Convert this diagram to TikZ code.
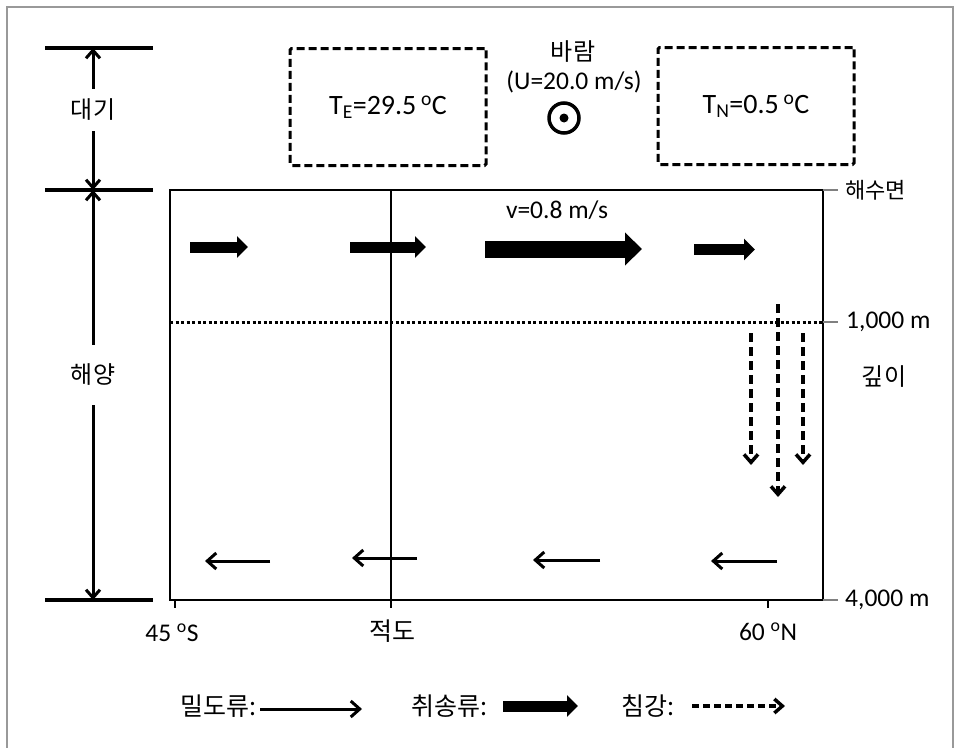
\documentclass[tikz,border=0pt]{standalone}
\usepackage{fontspec}
\setmainfont{Carlito}
\newfontfamily\kr{Noto Sans CJK KR}
\usetikzlibrary{arrows.meta}

\begin{document}
\begin{tikzpicture}[x=1pt,y=-1pt,
  every node/.style={inner sep=0pt},
  lat/.style={font=\fontsize{25.5}{28}\selectfont},
  big/.style={font=\fontsize{28}{30}\selectfont},
  kor/.style={font=\kr\fontsize{24}{28}\selectfont},
  tempbox/.style={draw, line width=3pt, dash pattern=on 8pt off 4pt,
    rounded corners=1.5pt, minimum width=196pt, minimum height=117pt},
  levelbar/.style={line width=3.5pt},
  dimarrow/.style={line width=3pt, -{Straight Barb[length=8pt,width=14pt,line width=3pt]}},
  densityflow/.style={line width=3pt, -{Straight Barb[length=9pt,width=16pt,line width=3pt]}},
  windflow/.style={line width=11pt, -{Triangle[length=11pt,width=21pt]}},
  sinking/.style={line width=3.5pt, dash pattern=on 9pt off 5pt,
    -{Straight Barb[length=8pt,width=14pt,line width=3.5pt]}},
  depthtick/.style={draw=gray, line width=1.5pt},
]
\useasboundingbox (0,0) rectangle (957,747);

% outer frame
\draw[gray!80, line width=2.5pt] (7,760) -- (7,7) -- (953,7) -- (953,760);

% vertical scale on the left
\coordinate (atop) at (93,48);
\coordinate (amid) at (93,190);
\coordinate (abot) at (93,600);
\draw[levelbar] (45,48) -- (153,48);
\draw[levelbar] (45,190) -- (153,190);
\draw[levelbar] (45,600) -- (153,600);
\node[kor, minimum height=42pt] (atm) at (93,110) {대기};
\node[kor, minimum height=60pt] (sea) at (93,375) {해양};
\draw[dimarrow] (atm) -- (atop);
\draw[dimarrow] (atm) -- (amid);
\draw[dimarrow] (sea) -- (amid);
\draw[dimarrow] (sea) -- (abot);

% temperature boxes and wind
\node[tempbox, big] (te) at (388,107) {T\textsubscript{E}=29.5\,\textsuperscript{o}C};
\node[tempbox, big] (tn) at (756,106) {T\textsubscript{N}=0.5\,\textsuperscript{o}C};
\node[kor] (windlbl) at (573,52) {바람};
\node[lat] (windval) at (574,82) {(U=20.0 m/s)};
\node[circle, draw, line width=3.5pt, minimum size=30pt] (wind) at (564,118) {};
\fill (wind.center) circle (4.5pt);

% ocean section
\node[draw, line width=2.5pt, minimum width=653pt, minimum height=410pt] (ocean) at (496.5,395) {};
\draw[line width=2.5pt] (391,190) -- (391,608);
\draw[line width=3pt, dash pattern=on 3pt off 2.5pt] (170,322) -- (823,322);
\draw[line width=2pt] (175,600) -- (175,608);
\draw[line width=2pt] (768,600) -- (768,608);

% depth labels on the right
\draw[depthtick] (823,190) -- (838,190);
\draw[depthtick] (823,322) -- (838,322);
\draw[depthtick] (823,600) -- (838,600);
\node[kor, anchor=west, font=\kr\fontsize{22}{26}\selectfont] (surf) at (845,190) {해수면};
\node[lat, anchor=west] (d1000) at (846,322) {1,000 m};
\node[kor] (depth) at (884,377) {깊이};
\node[lat, anchor=west] (d4000) at (845,600) {4,000 m};

% latitude labels
\node[lat] (s45) at (172,633) {45 \textsuperscript{o}S};
\node[kor, font=\kr\fontsize{25}{28}\selectfont] (eq) at (392,631) {적도};
\node[lat] (n60) at (768,632) {60 \textsuperscript{o}N};

% wind-driven surface flow
\draw[windflow] (190,247) -- (248,247);
\draw[windflow] (350,247) -- (426,247);
\draw[line width=17pt, -{Triangle[length=17pt,width=32pt]}] (485,249) -- (642,249);
\draw[windflow] (694,249.5) -- (755,249.5);
\node[lat] (speed) at (557,210) {v=0.8 m/s};

% sinking near 60 N
\draw[sinking] (751,333) -- (751,465);
\draw[sinking] (778,304) -- (778,497);
\draw[sinking] (803,333) -- (803,465);

% deep return flow
\draw[densityflow] (270,561) -- (205,561);
\draw[densityflow] (417,558) -- (352,558);
\draw[densityflow] (600,560) -- (533,560);
\draw[densityflow] (777,561) -- (711,561);

% legend
\node[kor, anchor=west, font=\kr\fontsize{25}{28}\selectfont] (lg1) at (180,706) {밀도류:};
\coordinate (lg1end) at (362,709);
\draw[densityflow] (lg1.east) ++(4,3) -- (lg1end);
\node[kor, anchor=west, font=\kr\fontsize{25}{28}\selectfont] (lg2) at (411,706) {취송류:};
\coordinate (lg2end) at (578,706);
\draw[windflow] (503,706) -- (lg2end);
\node[kor, anchor=west, font=\kr\fontsize{25}{28}\selectfont] (lg3) at (621,706) {침강:};
\coordinate (lg3end) at (785,706);
\draw[sinking, dash pattern=on 7pt off 4pt] (692,706) -- (lg3end);
\end{tikzpicture}
\end{document}
